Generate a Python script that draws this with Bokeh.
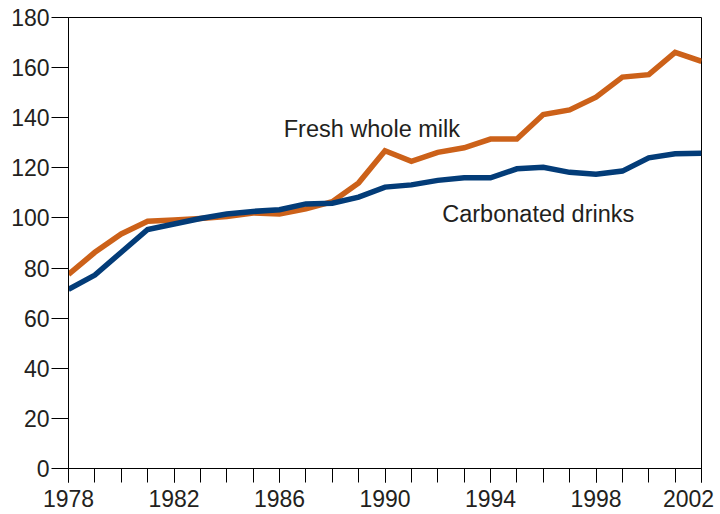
from bokeh.plotting import figure
from bokeh.models import Range1d, FixedTicker, Label
from bokeh.embed import file_html
from bokeh.resources import INLINE

years = list(range(1978, 2003))
fresh_whole_milk = [77.5, 86.3, 93.6, 98.7, 99.2, 99.8, 100.6, 102.0, 101.6, 103.6, 106.5,
                    114.0, 126.8, 122.6, 126.2, 128.0, 131.5, 131.5, 141.3, 143.1, 148.2,
                    156.2, 157.2, 166.1, 162.5]
carbonated_drinks = [71.5, 77.2, 86.3, 95.4, 97.6, 99.8, 101.6, 102.6, 103.3, 105.6, 105.9,
                     108.3, 112.3, 113.2, 115.0, 116.0, 116.0, 119.6, 120.2, 118.2, 117.4,
                     118.7, 124.0, 125.6, 125.8]
x_major_ticks = [1978, 1982, 1986, 1990, 1994, 1998, 2002]
y_ticks = [0, 20, 40, 60, 80, 100, 120, 140, 160, 180]

FONT = "Liberation Sans"
TXT = "#231f20"
ORANGE = "#cc6119"
BLUE = "#033c78"

p = figure(width=720, height=514, output_backend="svg", toolbar_location=None,
           x_range=Range1d(1978, 2002), y_range=Range1d(0, 180),
           min_border_left=68, min_border_top=17, min_border_right=19, min_border_bottom=0)

p.xgrid.visible = False
p.ygrid.visible = False
p.outline_line_color = "black"
p.outline_line_width = 1
p.background_fill_color = "white"
p.border_fill_color = "white"

p.line(years, fresh_whole_milk, line_color=ORANGE, line_width=5.5, line_join="miter")
p.line(years, carbonated_drinks, line_color=BLUE, line_width=5.5, line_join="miter")

xa = p.xaxis[0]
xa.ticker = FixedTicker(ticks=x_major_ticks, minor_ticks=years)
xa.major_label_overrides = {2002: "2002\u00a0"}
xa.major_tick_out = 14
xa.major_tick_in = 0
xa.minor_tick_out = 14
xa.minor_tick_in = 0
xa.major_label_standoff = 3
xa.major_label_text_font = FONT
xa.major_label_text_font_size = "23px"
xa.major_label_text_color = TXT
xa.axis_line_color = "black"
xa.major_tick_line_color = "black"
xa.minor_tick_line_color = "black"

ya = p.yaxis[0]
ya.ticker = FixedTicker(ticks=y_ticks)
ya.major_tick_out = 17
ya.major_tick_in = 0
ya.minor_tick_out = 0
ya.major_label_standoff = 2
ya.major_label_text_font = FONT
ya.major_label_text_font_size = "23px"
ya.major_label_text_color = TXT
ya.axis_line_color = "black"
ya.major_tick_line_color = "black"

p.add_layout(Label(x=1986.16, y=135.6, text="Fresh whole milk", text_font=FONT,
                   text_font_size="23.5px", text_color=TXT, text_baseline="alphabetic"))
p.add_layout(Label(x=1992.17, y=101.6, text="Carbonated drinks", text_font=FONT,
                   text_font_size="23.5px", text_color=TXT, text_baseline="alphabetic"))

open("out.html", "w").write(file_html(p, INLINE))
